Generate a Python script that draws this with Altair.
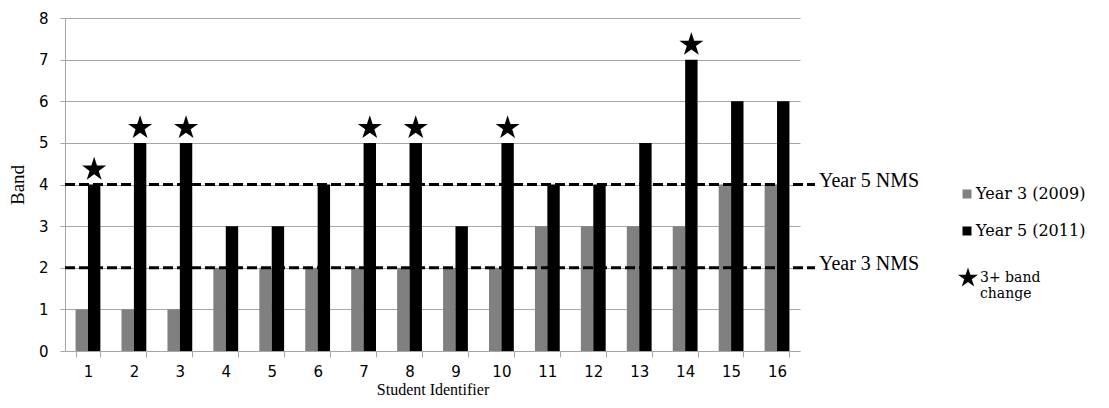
import altair as alt
import pandas as pd

students = list(range(1, 17))
year3 = [1, 1, 1, 2, 2, 2, 2, 2, 2, 2, 3, 3, 3, 3, 4, 4]
year5 = [4, 5, 5, 3, 3, 4, 5, 5, 3, 5, 4, 4, 5, 7, 6, 6]
star_students = [1, 2, 3, 7, 8, 10, 14]
series_names = ["Year 3 (2009)", "Year 5 (2011)"]
series_colors = ["#808080", "#000000"]
nms_levels = [4, 2]
nms_labels = ["Year 5 NMS", "Year 3 NMS"]
star_label = "3+ band change"

rows = []
for s, a, b in zip(students, year3, year5):
    rows.append({"Student": s, "Series": series_names[0], "Band": a})
    rows.append({"Student": s, "Series": series_names[1], "Band": b})
bars_df = pd.DataFrame(rows)

stars_df = pd.DataFrame([
    {"Student": s, "Series": series_names[1], "Band": year5[students.index(s)], "Marker": star_label}
    for s in star_students
])
nms_df = pd.DataFrame({"Level": nms_levels, "Label": nms_labels})

STAR = ("M0,-1L0.2245,-0.309L0.9511,-0.309L0.3633,0.118L0.5878,0.809L0,0.382"
        "L-0.5878,0.809L-0.3633,0.118L-0.9511,-0.309L-0.2245,-0.309Z")

SANS = "DejaVu Sans"
SERIF = "Liberation Serif"
LSERIF = "DejaVu Serif"
GRID = "#a6a6a6"

x_enc = alt.X(
    "Student:O", sort=students,
    scale=alt.Scale(paddingInner=0.46, paddingOuter=0.23),
    axis=alt.Axis(title="Student Identifier", labelAngle=0, tickBand="extent",
                  tickSize=6, labelPadding=7, labelFont=SANS, labelFontSize=15,
                  labelColor="black", titleFont=SERIF, titleFontSize=16,
                  titleFontWeight="normal", titleColor="black",
                  titleBaseline="alphabetic", titleY=43,
                  domainColor=GRID, tickColor=GRID, grid=False),
)
xoff_enc = alt.XOffset("Series:N", sort=series_names,
                       scale=alt.Scale(domain=series_names, paddingInner=0, paddingOuter=0))
y_enc = alt.Y(
    "Band:Q", scale=alt.Scale(domain=[0, 8], nice=False),
    axis=alt.Axis(title="Band", values=list(range(9)), tickSize=5, labelPadding=12,
                  labelFont=SANS, labelFontSize=15, labelColor="black",
                  titleFont=SERIF, titleFontSize=19, titleFontWeight="normal",
                  titleColor="black", titlePadding=11,
                  domainColor=GRID, tickColor=GRID, grid=True, gridColor=GRID),
)

bars = alt.Chart(bars_df).mark_bar().encode(
    x=x_enc,
    xOffset=xoff_enc,
    y=y_enc,
    color=alt.Color("Series:N", scale=alt.Scale(domain=series_names, range=series_colors),
                    legend=alt.Legend(orient="none", legendX=894, legendY=168, title=None,
                                      symbolType="square", symbolSize=81,
                                      symbolStrokeWidth=0, labelFont=LSERIF,
                                      labelFontSize=16, labelColor="black",
                                      rowPadding=21, labelOffset=1)),
)

rules = alt.Chart(nms_df).mark_rule(color="black", strokeWidth=3, strokeDash=[10, 4]).encode(
    y=alt.Y("Level:Q"), x=alt.value(0), x2=alt.value(750)
)
rule_text = alt.Chart(nms_df).mark_text(align="left", baseline="alphabetic", font=SERIF,
                                        fontSize=20, color="black", dy=2).encode(
    y=alt.Y("Level:Q"), x=alt.value(754), text="Label:N"
)

stars = alt.Chart(stars_df).mark_point(filled=True, color="black", opacity=1, size=640,
                                       yOffset=-15).encode(
    x=alt.X("Student:O", sort=students),
    xOffset=alt.XOffset("Series:N", sort=series_names),
    y=alt.Y("Band:Q"),
    shape=alt.Shape("Marker:N", scale=alt.Scale(domain=[star_label], range=[STAR]),
                    legend=alt.Legend(orient="none", legendX=892, legendY=249, title=None,
                                      symbolSize=443, symbolFillColor="black",
                                      symbolStrokeWidth=0,
                                      labelExpr="['3+ band', 'change']",
                                      labelFont=LSERIF, labelFontSize=14,
                                      labelColor="black", labelOffset=1,
                                      labelBaseline="middle")),
)

chart = alt.layer(bars, rules, rule_text, stars).properties(
    width=735, height=333,
    autosize=alt.AutoSizeParams(type="none"),
    padding={"left": 57, "top": 10, "right": 301, "bottom": 47},
).configure_view(stroke=None).resolve_scale(shape="independent")

chart.save("out.html", embed_options={"renderer": "svg", "actions": False})
